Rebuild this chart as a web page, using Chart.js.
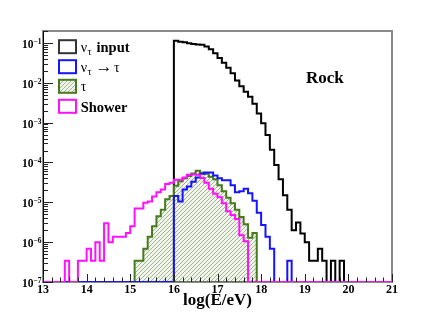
<!DOCTYPE html>
<html>
<head>
<meta charset="utf-8">
<script src="https://cdn.jsdelivr.net/npm/chart.js@4.4.0/dist/chart.umd.min.js"></script>
<style>
  html, body { margin: 0; padding: 0; background: #fff; }
  #wrap { width: 436px; height: 313px; }
</style>
</head>
<body>
<div id="wrap"><canvas id="c" width="436" height="313"></canvas></div>
<script>
"use strict";

// histogram binning: 80 bins of 0.1 from 13.0 to 21.0
var BIN_START = 13.0;
var BIN_WIDTH = 0.1;
var X_MIN = 13, X_MAX = 21;
var Y_MIN = 1e-7, Y_MAX = 0.2;
var X_TICKS = [13, 14, 15, 16, 17, 18, 19, 20, 21];
var Y_TICK_EXP = [-7, -6, -5, -4, -3, -2, -1];
var X_TITLE = "log(E/eV)";
var PANEL_LABEL = "Rock";

// one row = one unit of log(E/eV): 13.x, 14.x, ... 20.x
var nuInput = [
  0, 0, 0, 0, 0, 0, 0, 0, 0, 0,
  0, 0, 0, 0, 0, 0, 0, 0, 0, 0,
  0, 0, 0, 0, 0, 0, 0, 0, 0, 0,
  0.114, 0.108, 0.104, 0.098, 0.094, 0.092, 0.090, 0.082, 0.070, 0.055,
  0.042, 0.032, 0.024, 0.0175, 0.0115, 0.0082, 0.0060, 0.0045, 0.0030, 0.0017,
  9.7e-4, 4.9e-4, 2.1e-4, 8.7e-5, 3.8e-5, 1.5e-5, 6.5e-6, 2.0e-6, 3.1e-6, 1.66e-6,
  1.0e-6, 3.4e-7, 3.4e-7, 6.8e-7, 3.4e-7, 0, 3.4e-7, 0, 3.4e-7, 0,
  0, 0, 0, 0, 0, 0, 0, 0, 0, 0
];
var nuToTau = [
  0, 0, 0, 0, 0, 0, 0, 0, 0, 0,
  0, 0, 0, 0, 0, 0, 0, 0, 0, 0,
  0, 0, 0, 0, 0, 0, 0, 0, 0, 0,
  1.45e-5, 1.05e-5, 2.1e-5, 2.5e-5, 3.3e-5, 4.2e-5, 5.2e-5, 5.6e-5, 5.6e-5, 4.7e-5,
  4.0e-5, 3.6e-5, 3.6e-5, 2.7e-5, 1.8e-5, 1.9e-5, 2.2e-5, 1.7e-5, 1.1e-5, 5.5e-6,
  2.7e-6, 1.36e-6, 6.8e-7, 0, 0, 0, 3.4e-7, 0, 0, 0,
  0, 0, 0, 0, 0, 0, 0, 0, 0, 0,
  0, 0, 0, 0, 0, 0, 0, 0, 0, 0
];
var tauHist = [
  0, 0, 0, 0, 0, 0, 0, 0, 0, 0,
  0, 0, 0, 0, 0, 0, 0, 0, 0, 0,
  0, 3.4e-7, 3.4e-7, 6.8e-7, 1.36e-6, 2.5e-6, 4.5e-6, 6.5e-6, 1.2e-5, 1.45e-5,
  2.6e-5, 3.4e-5, 4.0e-5, 4.6e-5, 5.3e-5, 6.2e-5, 5.5e-5, 5.2e-5, 4.4e-5, 3.8e-5,
  2.7e-5, 1.9e-5, 1.3e-5, 9.5e-6, 6.5e-6, 4.3e-6, 2.8e-6, 1.3e-6, 1.7e-6, 0,
  0, 0, 0, 0, 0, 0, 0, 0, 0, 0,
  0, 0, 0, 0, 0, 0, 0, 0, 0, 0,
  0, 0, 0, 0, 0, 0, 0, 0, 0, 0
];
var shower = [
  0, 0, 0, 0, 0, 3.4e-7, 0, 0, 3.4e-7, 3.4e-7,
  6.8e-7, 3.4e-7, 1.0e-6, 3.4e-7, 3.0e-6, 1.0e-6, 1.36e-6, 1.36e-6, 1.36e-6, 1.7e-6,
  2.5e-6, 7.0e-6, 7.0e-6, 9.7e-6, 1.05e-5, 1.4e-5, 1.8e-5, 2.1e-5, 2.9e-5, 3.1e-5,
  3.7e-5, 3.7e-5, 4.2e-5, 4.9e-5, 5.0e-5, 4.9e-5, 4.1e-5, 3.1e-5, 2.2e-5, 1.65e-5,
  1.35e-5, 9.5e-6, 6.0e-6, 4.8e-6, 3.8e-6, 1.5e-6, 1.05e-6, 0, 0, 0,
  0, 0, 0, 0, 0, 0, 0, 0, 0, 0,
  0, 0, 0, 0, 0, 0, 0, 0, 0, 0,
  0, 0, 0, 0, 0, 0, 0, 0, 0, 0
];

var C_BLACK = "#000000", C_BLUE = "#1414ff", C_GREEN = "#467a1c", C_MAGENTA = "#ff10ff";
var SERIF = '"Liberation Serif", "DejaVu Serif", serif';

// bin contents -> outline corners (left and right edge of every bin); empty bins sit on the axis floor
function histPoints(arr) {
  var pts = [];
  for (var i = 0; i < arr.length; i++) {
    var lo = BIN_START + i * BIN_WIDTH;
    var v = arr[i] > 0 ? arr[i] : Y_MIN;
    pts.push({ x: lo, y: v });
    pts.push({ x: lo + BIN_WIDTH, y: v });
  }
  return pts;
}

function makeHatch(ctx) {
  var s = 4;
  var c = document.createElement("canvas");
  c.width = s; c.height = s;
  var g = c.getContext("2d");
  g.fillStyle = "rgba(225,232,215,0.45)";
  g.fillRect(0, 0, s, s);
  g.strokeStyle = "rgba(125,150,95,0.75)";
  g.lineWidth = 0.9;
  g.beginPath();
  g.moveTo(0, s); g.lineTo(s, 0);
  g.moveTo(-1, 1); g.lineTo(1, -1);
  g.moveTo(s - 1, s + 1); g.lineTo(s + 1, s - 1);
  g.stroke();
  return ctx.createPattern(c, "repeat");
}

function seg(g, x1, y1, x2, y2) { g.moveTo(x1, y1); g.lineTo(x2, y2); }

var rootFrame = {
  id: "rootFrame",
  beforeDatasetsDraw: function(chart) {
    var a = chart.chartArea, g = chart.ctx;
    g.save();
    g.strokeStyle = "#8a8a8a"; g.lineWidth = 2;
    g.strokeRect(a.left, a.top, a.right - a.left, a.bottom - a.top);
    g.strokeStyle = "#000"; g.lineWidth = 1;
    g.beginPath();
    seg(g, a.left + 0.5, a.top, a.left + 0.5, a.bottom);
    seg(g, a.left, a.bottom - 0.5, a.right, a.bottom - 0.5);
    g.stroke();
    g.restore();
  },
  afterDatasetsDraw: function(chart) {
    var a = chart.chartArea, g = chart.ctx;
    var xs = chart.scales.x, ys = chart.scales.y;
    g.save();

    // inward ticks
    g.strokeStyle = "#222"; g.lineWidth = 1;
    g.beginPath();
    for (var ei = 0; ei < Y_TICK_EXP.length; ei++) {
      for (var k = 1; k <= 9; k++) {
        var v = k * Math.pow(10, Y_TICK_EXP[ei]);
        if (v > Y_MAX * 1.0001) break;
        var py = Math.round(ys.getPixelForValue(v)) + 0.5;
        seg(g, a.left, py, a.left + (k === 1 ? 10 : 5), py);
      }
    }
    for (var t = X_MIN * 5; t <= X_MAX * 5; t++) {
      var px = Math.round(xs.getPixelForValue(t / 5)) + 0.5;
      seg(g, px, a.bottom, px, a.bottom - (t % 5 === 0 ? 8 : 4.5));
    }
    g.stroke();

    // tick labels
    g.fillStyle = "#000";
    g.font = "bold 12px " + SERIF;
    g.textAlign = "center"; g.textBaseline = "alphabetic";
    X_TICKS.forEach(function(xv) {
      g.fillText(String(xv), xs.getPixelForValue(xv), 293);
    });
    Y_TICK_EXP.forEach(function(ex) {
      var y = ys.getPixelForValue(Math.pow(10, ex));
      var sup = "\u2212" + Math.abs(ex);
      g.font = "bold 7.5px " + SERIF;
      var sw = g.measureText(sup).width;
      g.textAlign = "left";
      g.fillText(sup, 41.5 - sw, y + 1);
      g.font = "bold 11.5px " + SERIF;
      g.textAlign = "right";
      g.fillText("10", 41.5 - sw, y + 5);
    });

    // axis title and panel label
    g.textAlign = "center";
    g.font = "bold 17px " + SERIF;
    g.fillText(X_TITLE, (a.left + a.right) / 2, 305);
    g.textAlign = "left";
    g.fillText(PANEL_LABEL, 306, 83);

    // legend
    var rows = [46.7, 66.7, 86.3, 106.3];
    var boxes = [["#333", null], [C_BLUE, null], [C_GREEN, makeHatch(g)], [C_MAGENTA, null]];
    g.lineWidth = 2;
    for (var r = 0; r < 4; r++) {
      var by = rows[r] - 6.5;
      if (boxes[r][1]) { g.fillStyle = boxes[r][1]; g.fillRect(59, by, 17, 13); }
      g.strokeStyle = boxes[r][0];
      g.strokeRect(59, by, 17, 13);
    }
    g.fillStyle = "#000";
    g.textAlign = "left";
    function nuTau(cy) {
      g.font = "14px " + SERIF; g.fillText("\u03bd", 80.7, cy + 5);
      g.font = "10px " + SERIF; g.fillText("\u03c4", 87.5, cy + 8);
    }
    nuTau(rows[0]);
    g.font = "bold 14.5px " + SERIF; g.fillText("input", 96.5, rows[0] + 5);
    nuTau(rows[1]);
    g.font = "17px " + SERIF; g.fillText("\u2192", 95.5, rows[1] + 5);
    var aw = g.measureText("\u2192").width;
    g.font = "14px " + SERIF; g.fillText("\u03c4", 95.5 + aw + 1.5, rows[1] + 5);
    g.fillText("\u03c4", 80.7, rows[2] + 5);
    g.font = "bold 14.5px " + SERIF; g.fillText("Shower", 80.7, rows[3] + 5.5);

    g.restore();
  }
};

var ctx = document.getElementById("c").getContext("2d");
var common = { borderWidth: 2, pointRadius: 0, tension: 0, fill: false,
               borderJoinStyle: "miter", borderCapStyle: "butt" };

new Chart(ctx, {
  type: "line",
  data: {
    datasets: [
      Object.assign({ label: "Shower", data: histPoints(shower), borderColor: C_MAGENTA, order: 0 }, common),
      Object.assign({ label: "nu_tau -> tau", data: histPoints(nuToTau), borderColor: C_BLUE, order: 1 }, common),
      Object.assign({}, common, { label: "tau", data: histPoints(tauHist), borderColor: C_GREEN,
                                  backgroundColor: makeHatch(ctx), fill: "start", order: 2 }),
      Object.assign({ label: "nu_tau input", data: histPoints(nuInput), borderColor: C_BLACK, order: 3 }, common)
    ]
  },
  options: {
    responsive: false,
    animation: false,
    devicePixelRatio: 1,
    layout: { padding: { left: 43, right: 44, top: 31, bottom: 31 } },
    scales: {
      x: { type: "linear", min: X_MIN, max: X_MAX, display: false },
      y: { type: "logarithmic", min: Y_MIN, max: Y_MAX, display: false }
    },
    plugins: { legend: { display: false }, tooltip: { enabled: false } }
  },
  plugins: [rootFrame]
});
</script>
</body>
</html>
